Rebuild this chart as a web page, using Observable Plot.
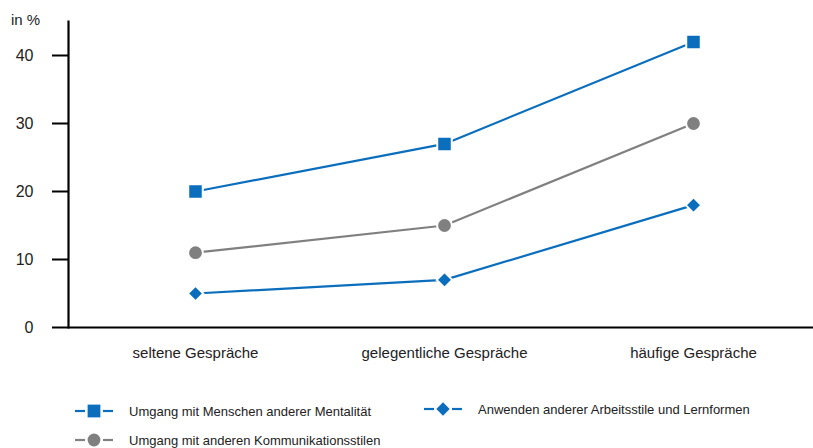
<!DOCTYPE html>
<html>
<head>
<meta charset="utf-8">
<script src="https://cdn.jsdelivr.net/npm/d3@7"></script>
<script src="https://cdn.jsdelivr.net/npm/@observablehq/plot@0.6"></script>
<style>
  html, body { margin: 0; padding: 0; background: #fff; }
  body { font-family: "Liberation Sans", Arial, sans-serif; }
  #wrap { position: relative; width: 813px; height: 448px; overflow: hidden; }
  #unit { position: absolute; left: 11px; top: 11px; font-size: 15px; color: #222; }
  .leg { position: absolute; display: flex; align-items: center; font-size: 13px; color: #222; white-space: nowrap; }
  .leg svg { margin-right: 16px; }
</style>
</head>
<body>
<div id="wrap">
  <div id="chart"></div>
  <div id="unit">in %</div>
  <div id="legend"></div>
</div>
<script>
const categories = ["seltene Gespräche", "gelegentliche Gespräche", "häufige Gespräche"];
const seriesNames = [
  "Umgang mit Menschen anderer Mentalität",
  "Umgang mit anderen Kommunikationsstilen",
  "Anwenden anderer Arbeitsstile und Lernformen"
];
const mentalitaet = [20, 27, 42];
const kommunikation = [11, 15, 30];
const arbeitsstile = [5, 7, 18];
const yTicks = [0, 10, 20, 30, 40];

const colors = ["#0a6ebd", "#808080", "#0a6ebd"];
const symbols = ["square", "circle", "diamond2"];
const radii = [8.2, 7.4, 7];

const valuesBySeries = [mentalitaet, kommunikation, arbeitsstile];
const data = [];
seriesNames.forEach((s, i) => {
  categories.forEach((c, j) => data.push({series: s, cat: c, value: valuesBySeries[i][j], idx: i}));
});

const marks = [];
seriesNames.forEach((s, i) => {
  const d = data.filter(e => e.series === s);
  marks.push(Plot.line(d, {x: "cat", y: "value", stroke: colors[i], strokeWidth: 2.2}));
  marks.push(Plot.dot(d, {x: "cat", y: "value", fill: colors[i], stroke: "white", strokeWidth: 2, symbol: () => symbols[i], r: radii[i]}));
});

const chart = Plot.plot({
  width: 813,
  height: 390,
  marginLeft: 68,
  marginRight: 0,
  marginTop: 21,
  marginBottom: 63,
  style: {fontFamily: '"Liberation Sans", Arial, sans-serif', fontSize: "15px", color: "#222"},
  x: {type: "point", domain: categories, range: [194, 693], padding: 0, label: null},
  y: {domain: [0, 45], label: null},
  symbol: {type: "identity"},
  marks: [
    Plot.axisY(yTicks, {tickSize: 16, tickPadding: 19, stroke: "#000", strokeWidth: 2, fontSize: 16, label: null}),
    Plot.axisX(categories, {tickSize: 0, tickPadding: 20, fontSize: 15, label: null}),
    Plot.frame({anchor: "left", stroke: "#000", strokeWidth: 2.2}),
    Plot.ruleY([0], {stroke: "#000", strokeWidth: 2.2}),
    ...marks
  ]
});
document.getElementById("chart").appendChild(chart);

// legend
const legendPos = [[75, 411], [75, 440], [424, 409]];
const legend = document.getElementById("legend");
seriesNames.forEach((s, i) => {
  const div = document.createElement("div");
  div.className = "leg";
  div.style.left = legendPos[i][0] + "px";
  div.style.top = (legendPos[i][1] - 8) + "px";
  const sw = d3.create("svg").attr("width", 38).attr("height", 16);
  sw.append("line").attr("x1", 0).attr("x2", 10).attr("y1", 8).attr("y2", 8).attr("stroke", colors[i]).attr("stroke-width", 2.2);
  sw.append("line").attr("x1", 28).attr("x2", 38).attr("y1", 8).attr("y2", 8).attr("stroke", colors[i]).attr("stroke-width", 2.2);
  const sym = {square: d3.symbolSquare, circle: d3.symbolCircle, diamond2: d3.symbolDiamond2}[symbols[i]];
  const rl = radii[i] - 1;
  sw.append("path").attr("transform", "translate(19,8)")
    .attr("d", d3.symbol(sym, Math.PI * rl * rl)())
    .attr("fill", colors[i]);
  div.appendChild(sw.node());
  const t = document.createElement("span");
  t.textContent = s;
  div.appendChild(t);
  legend.appendChild(div);
});
</script>
</body>
</html>
